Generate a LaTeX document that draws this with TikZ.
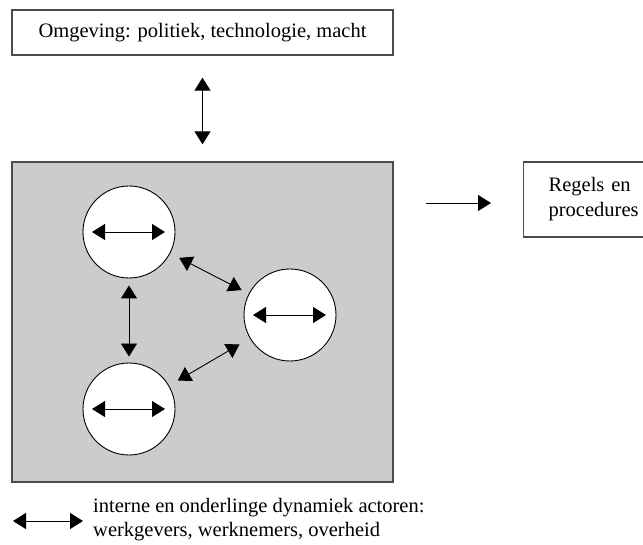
\documentclass[tikz,border=0pt]{standalone}
\usepackage{fontspec}
\setmainfont{Liberation Serif}
\usetikzlibrary{arrows.meta,calc}
\begin{document}
\begin{tikzpicture}[x=1pt,y=-1pt,
  txt/.style={font=\fontsize{20.5}{24}\selectfont},
  boxstyle/.style={draw=black!70, line width=1.3pt, inner sep=0pt, txt},
  actor/.style={circle, draw=black, line width=0.9pt, fill=white, minimum size=92pt, inner sep=0pt},
  tip/.tip={Triangle[width=16pt,length=13pt]},
  dbl/.style={line width=0.9pt, tip-tip},
  sgl/.style={line width=0.9pt, -tip}
]
\useasboundingbox (0,0) rectangle (643,545);
\clip (0,0) rectangle (643,545);
\node[boxstyle, minimum width=381pt, minimum height=45pt] (env) at (202.5,32.5) {Omgeving: politiek, technologie, macht};
\node[boxstyle, fill=gray!40, minimum width=381pt, minimum height=320pt] (org) at (202.5,322) {};
\node[boxstyle, font=\fontsize{20.5}{25}\selectfont, inner xsep=25pt, inner ysep=0pt, text width=110pt, minimum height=75pt, align=left, anchor=west] (rules) at (523,199.5) {Regels en\\procedures};

\node[actor] (c1) at (129,232) {};
\node[actor] (c2) at (290,315) {};
\node[actor] (c3) at (129,409) {};

\foreach \c in {c1,c2,c3} {
  \coordinate (\c l) at ($(\c.center)+(-37,0)$);
  \coordinate (\c r) at ($(\c.center)+(36,0)$);
  \draw[dbl] (\c l) -- (\c r);
}

\draw[dbl, shorten <=10pt, shorten >=8pt] (c1) -- (c2);
\draw[dbl, shorten <=7pt, shorten >=6pt] (c1) -- (c3);
\draw[dbl, shorten <=10pt, shorten >=12pt] (c3) -- (c2);

\draw[dbl, shorten <=22pt, shorten >=17pt] (env) -- (org);
\draw[sgl, shorten <=32pt, shorten >=32pt] ([yshift=-3.5pt]org.east |- rules.west) -- ([yshift=-3.5pt]rules.west);

\coordinate (la) at (13,521);
\coordinate (lb) at (83,521);
\draw[dbl] (la) -- (lb);
\node[txt, anchor=west, align=left, inner sep=0pt] (legend) at (93,520) {interne en onderlinge dynamiek actoren:\\werkgevers, werknemers, overheid};
\end{tikzpicture}
\end{document}
